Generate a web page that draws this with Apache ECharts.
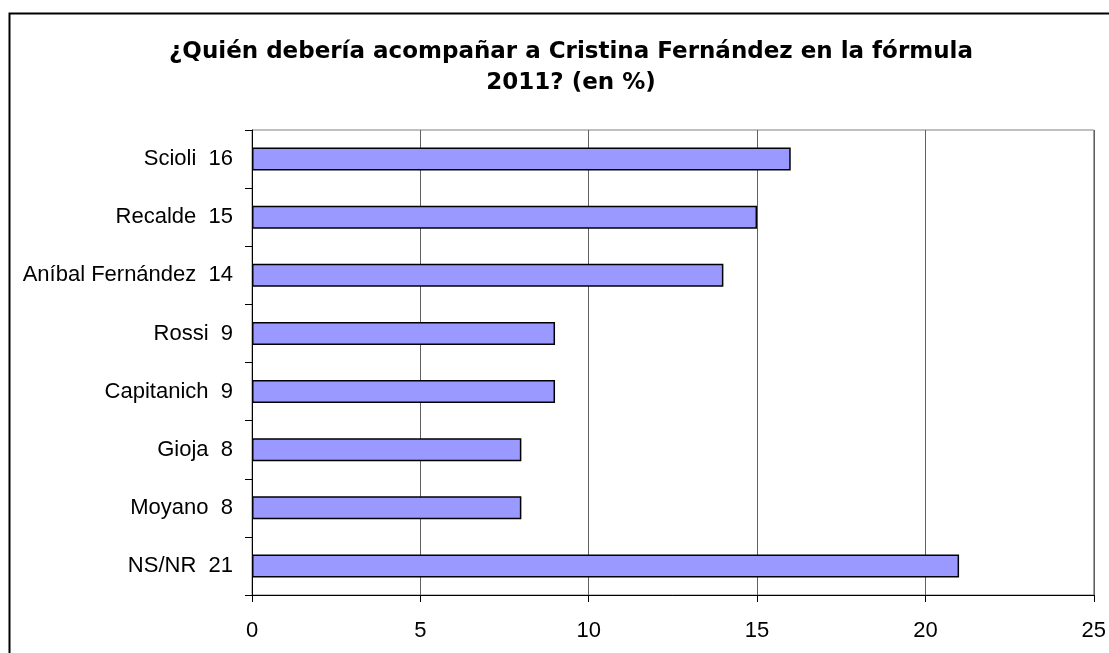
<!DOCTYPE html>
<html>
<head>
<meta charset="utf-8">
<script src="https://cdn.jsdelivr.net/npm/echarts@6/dist/echarts.min.js"></script>
<style>html,body{margin:0;padding:0;background:#fff;}#c{width:1109px;height:653px;}</style>
</head>
<body>
<div id="c"></div>
<script>
const titleText = '¿Quién debería acompañar a Cristina Fernández en la fórmula\n2011? (en %)';
const categories = ['Scioli  16', 'Recalde  15', 'Aníbal Fernández  14', 'Rossi  9', 'Capitanich  9', 'Gioja  8', 'Moyano  8', 'NS/NR  21'];
const values = [16, 15, 14, 9, 9, 8, 8, 21];
const xTicks = { min: 0, max: 25, interval: 5 };

const chart = echarts.init(document.getElementById('c'), null, { renderer: 'canvas' });
chart.setOption({
  backgroundColor: '#ffffff',
  animation: false,
  graphic: [{
    type: 'rect', left: 7, top: 11, z: 100,
    shape: { width: 1200, height: 1000 },
    style: { fill: 'none', stroke: '#000', lineWidth: 2 }
  }],
  title: {
    text: titleText,
    left: 566, top: 32, textAlign: 'center',
    textStyle: { fontFamily: 'DejaVu Sans', fontWeight: 'bold', fontSize: 23, lineHeight: 31, color: '#000' }
  },
  grid: { left: 252, right: 15, top: 130, bottom: 58, show: true, borderColor: '#808080', borderWidth: 1, containLabel: false },
  xAxis: {
    type: 'value', min: xTicks.min, max: xTicks.max, interval: xTicks.interval,
    axisLine: { show: true, lineStyle: { color: '#000', width: 1 } },
    axisTick: { show: true, length: 7, lineStyle: { color: '#000' } },
    axisLabel: { margin: 25, fontFamily: 'Liberation Sans, Arial', fontSize: 22, color: '#000' },
    splitLine: { show: true, lineStyle: { color: '#606060', width: 1 } }
  },
  yAxis: {
    type: 'category', data: categories, inverse: true,
    axisLine: { show: true, lineStyle: { color: '#000', width: 1 } },
    axisTick: { show: true, length: 7, lineStyle: { color: '#000' } },
    axisLabel: { margin: 19, fontFamily: 'Liberation Sans, Arial', fontSize: 22, color: '#000' },
    splitLine: { show: false }
  },
  series: [{
    type: 'bar', data: values, barWidth: 23,
    itemStyle: { color: '#9999FF', borderColor: '#000', borderWidth: 1.5 }
  }]
});
</script>
</body>
</html>
